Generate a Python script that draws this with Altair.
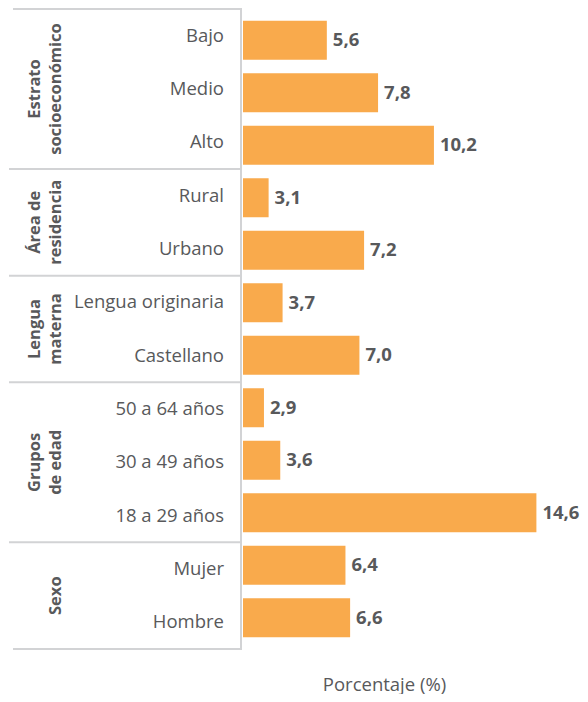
import altair as alt
import pandas as pd

# ---- data ----
groups = ["Estrato\nsocioeconómico", "Área de\nresidencia", "Lengua\nmaterna", "Grupos\nde edad", "Sexo"]
group_sizes = [3, 2, 2, 3, 2]
categories = ["Bajo", "Medio", "Alto", "Rural", "Urbano", "Lengua originaria", "Castellano",
              "50 a 64 años", "30 a 49 años", "18 a 29 años", "Mujer", "Hombre"]
values = [5.6, 7.8, 10.2, 3.1, 7.2, 3.7, 7.0, 2.9, 3.6, 14.6, 6.4, 6.6]
x_title = "Porcentaje (%)"

# ---- tables ----
df = pd.DataFrame({"cat": categories, "v": values, "idx": list(range(len(categories)))})

gstart = []
s = 0
for n in group_sizes:
    gstart.append(s)
    s += n
nlines = max(g.count("\n") + 1 for g in groups)
# bottom-align the group titles: pad shorter titles with leading empty lines
gtext = ["\n" * (nlines - (g.count("\n") + 1)) + g for g in groups]
gdf = pd.DataFrame({
    "g": gtext,
    "mid": [st + (n - 1) / 2 for st, n in zip(gstart, group_sizes)],
})
bounds = [st - 0.5 for st in gstart] + [s - 0.5]
inner = pd.DataFrame({"b": bounds[1:-1]})
outer = pd.DataFrame({"b": [bounds[0], bounds[-1]]})

FONT = "Open Sans"
TXT = "#58595b"
LINE = "#d2d3d5"
BAR = "#F9AA4C"
H = 640
ydom = [-0.5, 11.5]

yscale = alt.Scale(domain=ydom, reverse=True, nice=False, zero=False)

def Y(field):
    return alt.Y(f"{field}:Q", scale=yscale, axis=None)

# ---- left panel ----
cat_text = alt.Chart(df).mark_text(
    align="right", baseline="middle", font=FONT, fontSize=18.5, color=TXT
).encode(x=alt.value(216), y=Y("idx"), text="cat:N")

grp_text = alt.Chart(gdf).mark_text(
    angle=270, align="center", baseline="top", font=FONT, fontSize=16.5,
    fontWeight="bold", color=TXT, lineBreak="\n", lineHeight=21
).encode(x=alt.value(19), y=Y("mid"), text="g:N")

inner_rules = alt.Chart(inner).mark_rule(color=LINE, strokeWidth=2).encode(
    x=alt.value(1), x2=alt.value(234), y=Y("b"))
outer_rules = alt.Chart(outer).mark_rule(color=LINE, strokeWidth=2).encode(
    x=alt.value(5), x2=alt.value(234), y=Y("b"))
vrule = alt.Chart(outer).mark_rule(color=LINE, strokeWidth=2).encode(
    x=alt.value(233),
    y=alt.Y("min(b):Q", scale=yscale, axis=None),
    y2=alt.Y2("max(b):Q"))

left = alt.layer(inner_rules, outer_rules, vrule, cat_text, grp_text).properties(width=235, height=H)

# ---- right panel ----
xscale = alt.Scale(domain=[2, 16], zero=False, nice=False)
bars = alt.Chart(df).mark_bar(orient="horizontal", size=39, color=BAR).encode(
    x=alt.X("v:Q", scale=xscale, stack=None,
            axis=alt.Axis(labels=False, ticks=False, domain=False, grid=False,
                          title=x_title, titleFont=FONT, titleFontSize=18.5,
                          titleFontWeight="normal", titleColor=TXT,
                          titleX=141, titleY=41, titleBaseline="alphabetic")),
    x2=alt.datum(2),
    y=Y("idx"),
)
labels = alt.Chart(df).transform_calculate(
    lab="replace(format(datum.v, '.1f'), '.', ',')"
).mark_text(align="left", baseline="middle", dx=6, font=FONT, fontSize=18.5,
            fontWeight="bold", color=TXT).encode(
    x=alt.X("v:Q", scale=xscale), y=Y("idx"), text="lab:N")

right = alt.layer(bars, labels).properties(width=326, height=H)

chart = alt.hconcat(left, right, spacing=0).properties(
    padding=0, background="white"
).configure_view(stroke="transparent", strokeWidth=0)

chart.save("out.html", embed_options={"renderer": "svg", "actions": False})
